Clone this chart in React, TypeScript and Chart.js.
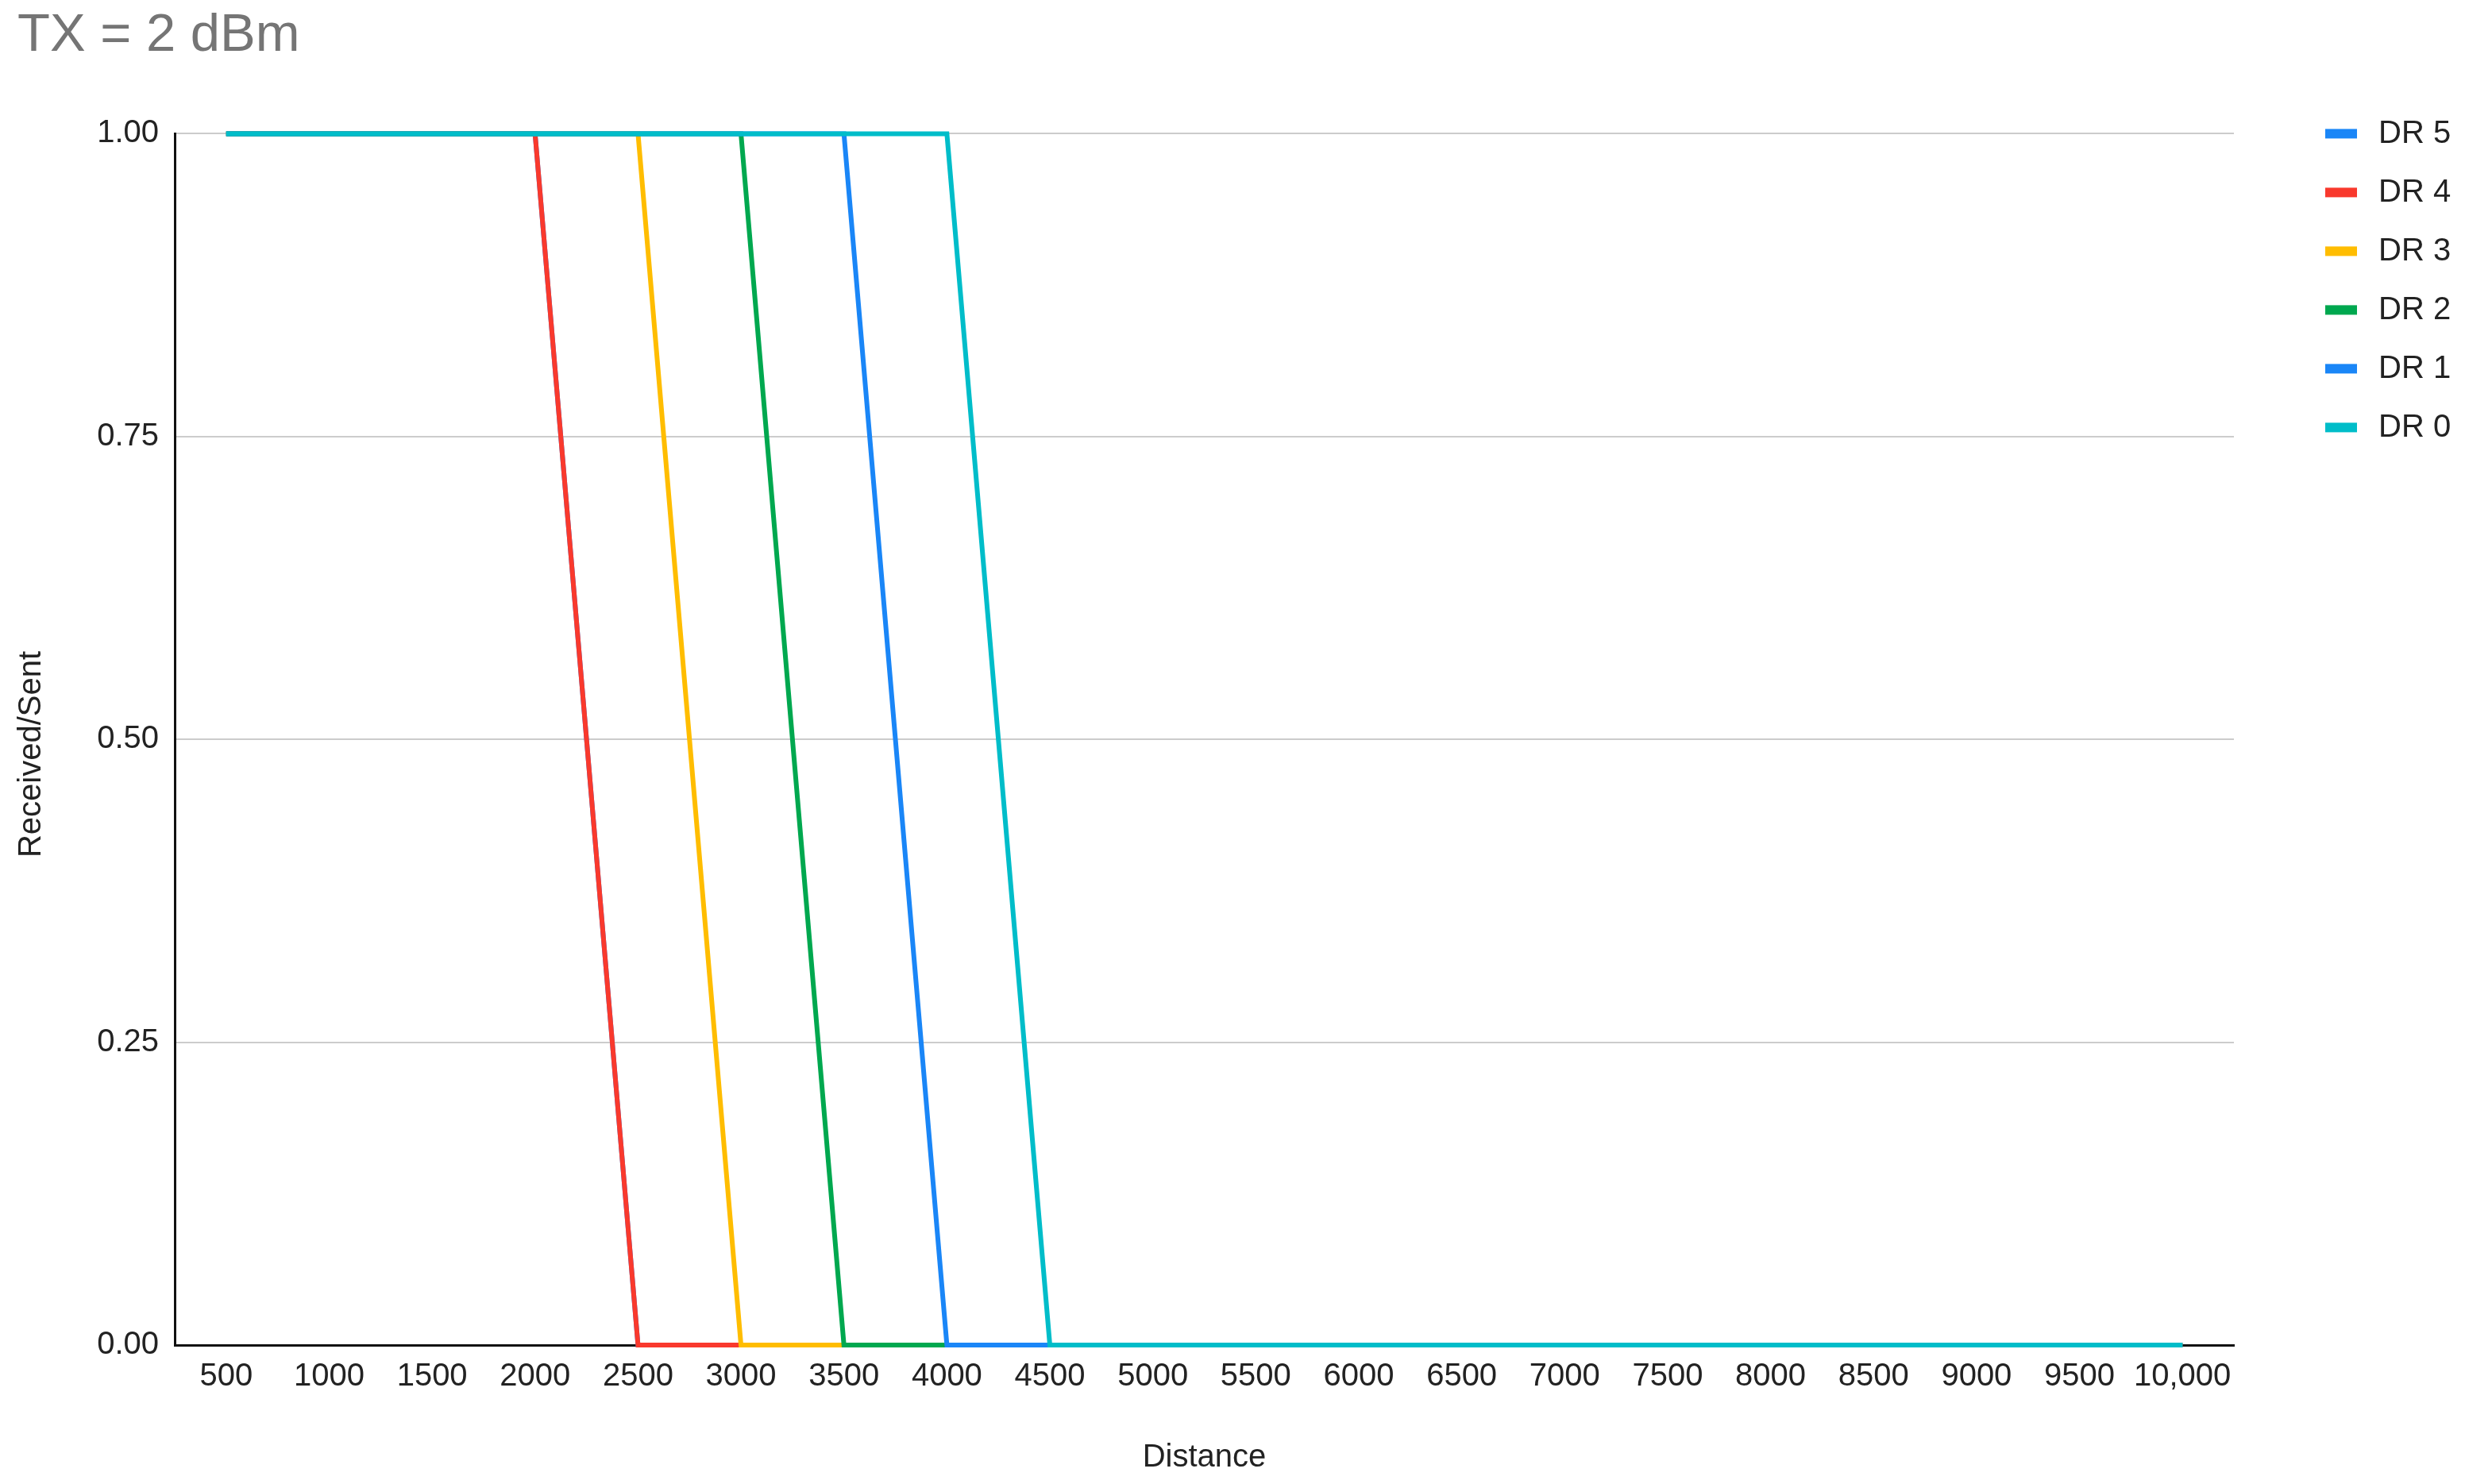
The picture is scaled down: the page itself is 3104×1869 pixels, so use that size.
import React, { useEffect, useRef } from 'react';
import { Chart, registerables } from 'chart.js';

Chart.register(...registerables);

const TITLE = 'TX = 2 dBm';
const X_TITLE = 'Distance';
const Y_TITLE = 'Received/Sent';

const DISTANCES = [
  '500', '1000', '1500', '2000', '2500', '3000', '3500', '4000', '4500', '5000',
  '5500', '6000', '6500', '7000', '7500', '8000', '8500', '9000', '9500', '10,000',
];

const SERIES_NAMES = ['DR 5', 'DR 4', 'DR 3', 'DR 2', 'DR 1', 'DR 0'];
const SERIES_COLORS = ['#1A86F7', '#F9392D', '#FFBD00', '#00A84F', '#1A86F7', '#00BDC9'];

const DR5 = [1, 1, 1, 1, 0, 0, 0, 0, 0, 0, 0, 0, 0, 0, 0, 0, 0, 0, 0, 0];
const DR4 = [1, 1, 1, 1, 0, 0, 0, 0, 0, 0, 0, 0, 0, 0, 0, 0, 0, 0, 0, 0];
const DR3 = [1, 1, 1, 1, 1, 0, 0, 0, 0, 0, 0, 0, 0, 0, 0, 0, 0, 0, 0, 0];
const DR2 = [1, 1, 1, 1, 1, 1, 0, 0, 0, 0, 0, 0, 0, 0, 0, 0, 0, 0, 0, 0];
const DR1 = [1, 1, 1, 1, 1, 1, 1, 0, 0, 0, 0, 0, 0, 0, 0, 0, 0, 0, 0, 0];
const DR0 = [1, 1, 1, 1, 1, 1, 1, 1, 0, 0, 0, 0, 0, 0, 0, 0, 0, 0, 0, 0];

const SERIES_VALUES = [DR5, DR4, DR3, DR2, DR1, DR0];

const FONT = '"Liberation Sans", Arial, sans-serif';

const sideLegend = {
  id: 'sideLegend',
  afterDraw(chart: any) {
    const ctx = chart.ctx;
    const top = chart.chartArea.top;
    ctx.save();
    ctx.font = `40px ${FONT}`;
    ctx.textBaseline = 'middle';
    ctx.textAlign = 'left';
    chart.data.datasets.forEach((ds: any, i: number) => {
      const y = top + i * 74;
      ctx.fillStyle = ds.borderColor;
      ctx.fillRect(2928, y - 6, 40, 12);
      ctx.fillStyle = '#222222';
      ctx.fillText(ds.label, 2995, y + 1);
    });
    // vertical axis title
    ctx.translate(40, 950);
    ctx.rotate(-Math.PI / 2);
    ctx.textAlign = 'center';
    ctx.fillText(Y_TITLE, 0, 0);
    ctx.restore();
  },
};

export default function App() {
  const ref = useRef<HTMLCanvasElement | null>(null);

  useEffect(() => {
    document.body.style.margin = '0';
    const canvas = ref.current;
    if (!canvas) return;
    const chart = new Chart(canvas, {
      type: 'line',
      data: {
        labels: DISTANCES,
        datasets: SERIES_NAMES.map((name, i) => ({
          label: name,
          data: SERIES_VALUES[i],
          borderColor: SERIES_COLORS[i],
          backgroundColor: SERIES_COLORS[i],
          borderWidth: 6,
          pointRadius: 0,
          tension: 0,
          fill: false,
          clip: false as any,
          order: SERIES_NAMES.length - 1 - i,
        })),
      },
      options: {
        animation: false,
        responsive: false,
        devicePixelRatio: 1,
        layout: { padding: { left: 22, right: 291, top: 0, bottom: 9 } },
        plugins: {
          legend: { display: false },
          tooltip: { enabled: false },
          title: {
            display: true,
            text: TITLE,
            align: 'start',
            color: '#757575',
            font: { family: FONT, size: 67, weight: 'normal', lineHeight: 1.2 },
            padding: { top: 5, bottom: 83 },
          },
        },
        scales: {
          x: {
            type: 'category',
            offset: true,
            grid: { display: false, drawTicks: false },
            border: { display: true, color: '#111111', width: 3 },
            ticks: {
              color: '#222222',
              font: { family: FONT, size: 40 },
              padding: 16,
              maxRotation: 0,
              autoSkip: false,
            },
            title: {
              display: true,
              text: X_TITLE,
              color: '#222222',
              font: { family: FONT, size: 40, lineHeight: 1.2 },
              padding: { top: 38, bottom: 0 },
            },
          },
          y: {
            min: 0,
            max: 1,
            afterFit: (scale: any) => {
              scale.width = 198;
            },
            grid: { color: '#CCCCCC', lineWidth: 2, drawTicks: false },
            border: { display: true, color: '#111111', width: 3 },
            ticks: {
              stepSize: 0.25,
              color: '#222222',
              font: { family: FONT, size: 40 },
              padding: 20,
              callback: (v: any) => Number(v).toFixed(2),
            },
            title: { display: false },
          },
        },
      },
      plugins: [sideLegend],
    });
    return () => chart.destroy();
  }, []);

  return (
    <div style={{ width: 3104, height: 1869 }}>
      <canvas ref={ref} width={3104} height={1869} style={{ display: 'block' }} />
    </div>
  );
}
